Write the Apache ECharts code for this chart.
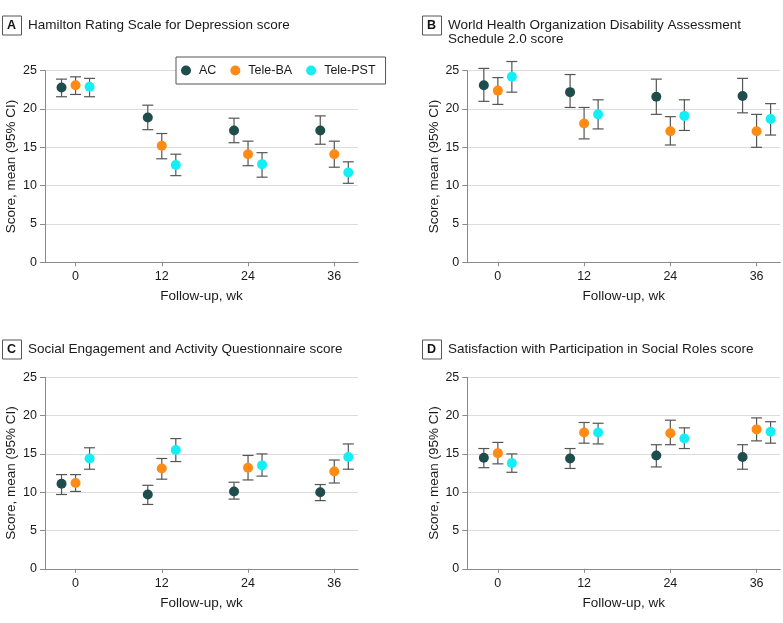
<!DOCTYPE html>
<html>
<head>
<meta charset="utf-8">
<script src="https://cdn.jsdelivr.net/npm/echarts@6/dist/echarts.min.js"></script>
<style>
html,body{margin:0;padding:0;background:#fff;}
#chart{width:783px;height:623px;}
</style>
</head>
<body>
<div id="chart"></div>
<script>
// ---- data ----
const weeks = [0, 12, 24, 36];
const groups = ['AC', 'Tele-BA', 'Tele-PST'];
const panelLetters = ['A', 'B', 'C', 'D'];
const panelTitles = [
  ['Hamilton Rating Scale for Depression score'],
  ['World Health Organization Disability Assessment', 'Schedule 2.0 score'],
  ['Social Engagement and Activity Questionnaire score'],
  ['Satisfaction with Participation in Social Roles score']
];
const yTicks = [0, 5, 10, 15, 20, 25];
const xTicks = [0, 12, 24, 36];

// Panel A: HAM-D  (rows: AC, Tele-BA, Tele-PST; cols: weeks)
const hamdMean = [[22.8, 18.9, 17.2, 17.2], [23.1, 15.2, 14.1, 14.1], [22.9, 12.7, 12.8, 11.7]];
const hamdLow  = [[21.6, 17.3, 15.6, 15.4], [21.9, 13.5, 12.6, 12.4], [21.6, 11.3, 11.1, 10.3]];
const hamdHigh = [[23.9, 20.5, 18.8, 19.1], [24.2, 16.8, 15.8, 15.8], [24.0, 14.1, 14.3, 13.1]];
// Panel B: WHODAS 2.0
const whodasMean = [[23.1, 22.2, 21.6, 21.7], [22.4, 18.1, 17.1, 17.1], [24.2, 19.3, 19.1, 18.7]];
const whodasLow  = [[21.0, 20.2, 19.3, 19.5], [20.6, 16.1, 15.3, 15.0], [22.2, 17.4, 17.2, 16.6]];
const whodasHigh = [[25.3, 24.5, 23.9, 24.0], [24.1, 20.2, 19.0, 19.3], [26.2, 21.2, 21.2, 20.7]];
// Panel C: SEAQ
const seaqMean = [[11.1, 9.7, 10.1, 10.0], [11.2, 13.1, 13.2, 12.7], [14.4, 15.5, 13.5, 14.6]];
const seaqLow  = [[9.7, 8.4, 9.1, 8.9], [10.1, 11.7, 11.6, 11.2], [13.0, 14.0, 12.1, 13.0]];
const seaqHigh = [[12.3, 10.9, 11.3, 11.0], [12.3, 14.4, 14.8, 14.2], [15.8, 17.0, 15.0, 16.3]];
// Panel D: SPSR
const spsrMean = [[14.5, 14.4, 14.8, 14.6], [15.1, 17.8, 17.7, 18.2], [13.8, 17.8, 17.0, 17.9]];
const spsrLow  = [[13.2, 13.1, 13.3, 13.0], [13.7, 16.4, 16.2, 16.7], [12.6, 16.3, 15.7, 16.4]];
const spsrHigh = [[15.7, 15.7, 16.2, 16.2], [16.5, 19.1, 19.4, 19.7], [15.0, 19.0, 18.4, 19.2]];

// ---- styling / layout ----
const FONT = "'Liberation Sans', Arial, sans-serif";
const TXT = '#1a1a1a';
const colors = ['#1f4d4c', '#ff8a14', '#12f0f6'];
const dodge = [-1.95, 0, 1.95];
const panels = [
  { mean: hamdMean, low: hamdLow, high: hamdHigh },
  { mean: whodasMean, low: whodasLow, high: whodasHigh },
  { mean: seaqMean, low: seaqLow, high: seaqHigh },
  { mean: spsrMean, low: spsrLow, high: spsrHigh }
];
const gridPos = [
  { left: 45, top: 70.7 },
  { left: 467.3, top: 70.7 },
  { left: 45, top: 377.3 },
  { left: 467.3, top: 377.3 }
];
const titlePos = [
  { bx: 2, cy: 25 }, { bx: 422, cy: 25 }, { bx: 2, cy: 349 }, { bx: 422, cy: 349 }
];

const chart = echarts.init(document.getElementById('chart'), null, { renderer: 'canvas' });

const grids = [], xAxes = [], yAxes = [], series = [], graphics = [];
panels.forEach((p, pi) => {
  grids.push({ left: gridPos[pi].left, top: gridPos[pi].top, width: 313, height: 191.5 });
  xAxes.push({
    type: 'value', gridIndex: pi, min: -4.25, max: 39.3,
    name: 'Follow-up, wk', nameLocation: 'middle', nameGap: 27,
    nameTextStyle: { fontFamily: FONT, fontSize: 13.5, color: TXT },
    axisLine: { show: true, onZero: false, lineStyle: { color: '#8a8a8a', width: 1 } },
    axisTick: { show: true, length: 4, customValues: xTicks, lineStyle: { color: '#8a8a8a' } },
    axisLabel: { customValues: xTicks, margin: 8, fontFamily: FONT, fontSize: 12.5, color: TXT },
    splitLine: { show: false }
  });
  yAxes.push({
    type: 'value', gridIndex: pi, min: 0, max: 25, interval: 5,
    name: 'Score, mean (95% CI)', nameLocation: 'middle', nameGap: 26.5,
    nameTextStyle: { fontFamily: FONT, fontSize: 13.5, color: TXT },
    axisLine: { show: true, onZero: false, lineStyle: { color: '#8a8a8a', width: 1 } },
    axisTick: { show: true, length: 5, lineStyle: { color: '#8a8a8a' } },
    axisLabel: { margin: 8, fontFamily: FONT, fontSize: 12.5, color: TXT },
    splitLine: { show: true, lineStyle: { color: '#dcdcdc', width: 1 } }
  });
  groups.forEach((g, gi) => {
    const errData = weeks.map((w, wi) => [w + dodge[gi], p.low[gi][wi], p.high[gi][wi]]);
    series.push({
      type: 'custom', xAxisIndex: pi, yAxisIndex: pi, z: 2, silent: true, clip: false,
      data: errData,
      renderItem: function (params, api) {
        const top = api.coord([api.value(0), api.value(2)]);
        const bot = api.coord([api.value(0), api.value(1)]);
        const hw = 5.5;
        const st = { stroke: '#555', lineWidth: 1.2 };
        return {
          type: 'group', children: [
            { type: 'line', shape: { x1: top[0], y1: top[1], x2: bot[0], y2: bot[1] }, style: st },
            { type: 'line', shape: { x1: top[0] - hw, y1: top[1], x2: top[0] + hw, y2: top[1] }, style: st },
            { type: 'line', shape: { x1: bot[0] - hw, y1: bot[1], x2: bot[0] + hw, y2: bot[1] }, style: st }
          ]
        };
      }
    });
    series.push({
      type: 'scatter', name: g, xAxisIndex: pi, yAxisIndex: pi, z: 3,
      symbol: 'circle', symbolSize: 10,
      itemStyle: { color: colors[gi], opacity: 1 },
      data: weeks.map((w, wi) => [w + dodge[gi], p.mean[gi][wi]])
    });
  });
  // panel letter box + title
  const tp = titlePos[pi];
  graphics.push({
    type: 'rect', left: tp.bx, top: tp.cy - 9.5,
    shape: { x: 0, y: 0, width: 19, height: 19 },
    style: { fill: '#fff', stroke: '#555', lineWidth: 1 }
  });
  graphics.push({
    type: 'text', x: tp.bx + 9.5, y: tp.cy + 0.5,
    style: { text: panelLetters[pi], fontFamily: FONT, fontWeight: 'bold', fontSize: 12.5, fill: '#111', textAlign: 'center', textVerticalAlign: 'middle' }
  });
  panelTitles[pi].forEach((line, li) => {
    graphics.push({
      type: 'text', x: tp.bx + 26, y: tp.cy + li * 14.5,
      style: { text: line, fontFamily: FONT, fontSize: 13.5, fill: TXT, textAlign: 'left', textVerticalAlign: 'middle' }
    });
  });
});

chart.setOption({
  animation: false,
  backgroundColor: '#fff',
  grid: grids,
  xAxis: xAxes,
  yAxis: yAxes,
  legend: {
    data: groups, left: 176, top: 57,
    orient: 'horizontal',
    icon: 'circle', itemWidth: 16, itemHeight: 10, itemGap: 14,
    borderColor: '#555', borderWidth: 1, borderRadius: 0,
    backgroundColor: '#fff',
    padding: [7, 10, 7, 5],
    textStyle: { fontFamily: FONT, fontSize: 12.5, color: TXT },
    selectedMode: false
  },
  graphic: graphics,
  series: series
});
</script>
</body>
</html>
